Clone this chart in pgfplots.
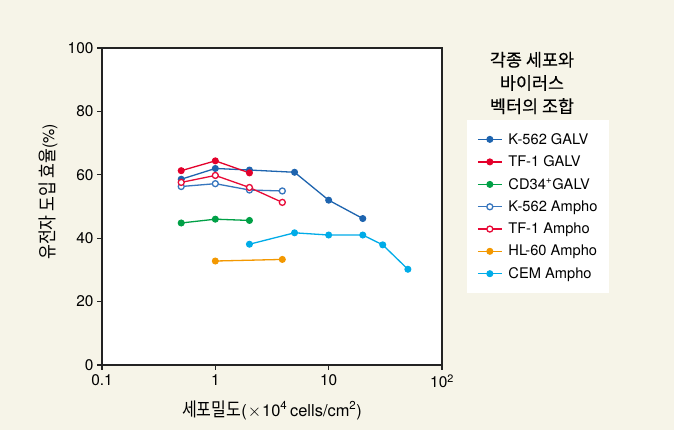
\documentclass[border=0pt]{standalone}
\usepackage{fontspec}
\setmainfont{TeX Gyre Heros}
\newfontfamily\kr{Noto Sans CJK KR}
\newfontfamily\krc[FakeStretch=0.85]{Noto Sans CJK KR}
\newfontfamily\krb[FakeBold=0.3]{Noto Sans CJK KR}
\usepackage{pgfplots}
\pgfplotsset{compat=1.18}
\definecolor{bgc}{RGB}{246,244,232}
\definecolor{axc}{RGB}{35,35,35}
\definecolor{cA}{RGB}{30,100,175}
\definecolor{cB}{RGB}{228,0,43}
\definecolor{cC}{RGB}{0,160,70}
\definecolor{cD}{RGB}{55,118,190}
\definecolor{cE}{RGB}{232,10,55}
\definecolor{cF}{RGB}{243,152,0}
\definecolor{cG}{RGB}{0,172,232}
\begin{document}
\begin{tikzpicture}
\useasboundingbox (0,0) rectangle (674bp,430bp);
\fill[bgc] (0,0) rectangle (674bp,430bp);
\begin{axis}[
  at={(102bp,65bp)}, anchor=south west,
  scale only axis, width=340bp, height=317bp,
  xmode=log, xmin=0.1, xmax=100, ymin=0, ymax=100,
  xtick={0.1,1,10,100}, xticklabels={0.1,1,10,10\textsuperscript{2}},
  ytick={0,20,40,60,80,100},
  xminorticks=false, yminorticks=false,
  tick align=outside, xtick pos=bottom, ytick pos=left,
  major tick length=5bp,
  axis line style={axc, line width=1.2bp},
  every tick/.style={axc, line width=1.1bp},
  axis background/.style={fill=white},
  /pgf/number format/assume math mode=true,
  ticklabel style={font=\fontsize{15.5}{17}\selectfont, text=black},
  xticklabel style={yshift=-1bp},
  log ticks with fixed point,
  xlabel={{\krc\fontsize{19}{20}\selectfont 세포밀도}(\kern1bp$\times$\kern1bp10\textsuperscript{4}\,cells/cm\textsuperscript{2})},
  xlabel style={at={(axis description cs:0.5,-0.142)}, anchor=center, font=\fontsize{16.5}{18}\selectfont},
  ylabel={{\krc\fontsize{19}{20}\selectfont 유전자 도입 효율}(\%)},
  ylabel style={at={(axis description cs:-0.159,0.546)}, anchor=center, font=\fontsize{16}{18}\selectfont},
  legend style={at={(axis description cs:1.0735,0.773)}, anchor=north west,
    draw=none, fill=white, inner xsep=10bp, inner ysep=11bp,
    row sep=6.1bp, column sep=4bp,
    font=\fontsize{14.7}{16}\selectfont},
  legend cell align=left,
  legend image code/.code={\draw[mark repeat=2,mark phase=2] plot coordinates {(0bp,0bp)(12bp,0bp)(24bp,0bp)};},
  clip=false,
]
\addplot[cA, line width=1.3bp, mark=*, mark size=3bp, mark options={fill=cA, line width=1bp}]
  coordinates {(0.5,58.6)(1,62.0)(2,61.5)(5,60.8)(10,52.0)(20,46.2)};
\addlegendentry{K-562 GALV}
\addplot[cB, line width=1.3bp, mark=*, mark size=3bp, mark options={fill=cB, line width=1bp}]
  coordinates {(0.5,61.3)(1,64.4)(2,60.6)};
\addlegendentry{TF-1 GALV}
\addplot[cC, line width=1.3bp, mark=*, mark size=3bp, mark options={fill=cC, line width=1bp}]
  coordinates {(0.5,44.8)(1,46.0)(2,45.6)};
\addlegendentry{CD34\textsuperscript{+}GALV}
\addplot[cD, line width=1.3bp, mark=*, mark size=3bp, mark options={fill=white, line width=1.3bp}]
  coordinates {(0.5,56.3)(1,57.2)(2,55.2)(3.9,54.9)};
\addlegendentry{K-562 Ampho}
\addplot[cE, line width=1.3bp, mark=*, mark size=3bp, mark options={fill=white, line width=1.3bp}]
  coordinates {(0.5,57.6)(1,59.8)(2,56.0)(3.9,51.3)};
\addlegendentry{TF-1 Ampho}
\addplot[cF, line width=1.3bp, mark=*, mark size=3bp, mark options={fill=cF, line width=1bp}]
  coordinates {(1,32.8)(3.9,33.3)};
\addlegendentry{HL-60 Ampho}
\addplot[cG, line width=1.3bp, mark=*, mark size=3bp, mark options={fill=cG, line width=1bp}]
  coordinates {(2,38.1)(5,41.7)(10,41.0)(20,41.0)(30,37.9)(50,30.2)};
\addlegendentry{CEM Ampho}
\node[align=center, font=\krb\fontsize{17.5}{23.3}\selectfont, anchor=center]
  at (axis description cs:1.2647,0.8896) {각종 세포와\\바이러스\\벡터의 조합};
\end{axis}
\end{tikzpicture}
\end{document}
